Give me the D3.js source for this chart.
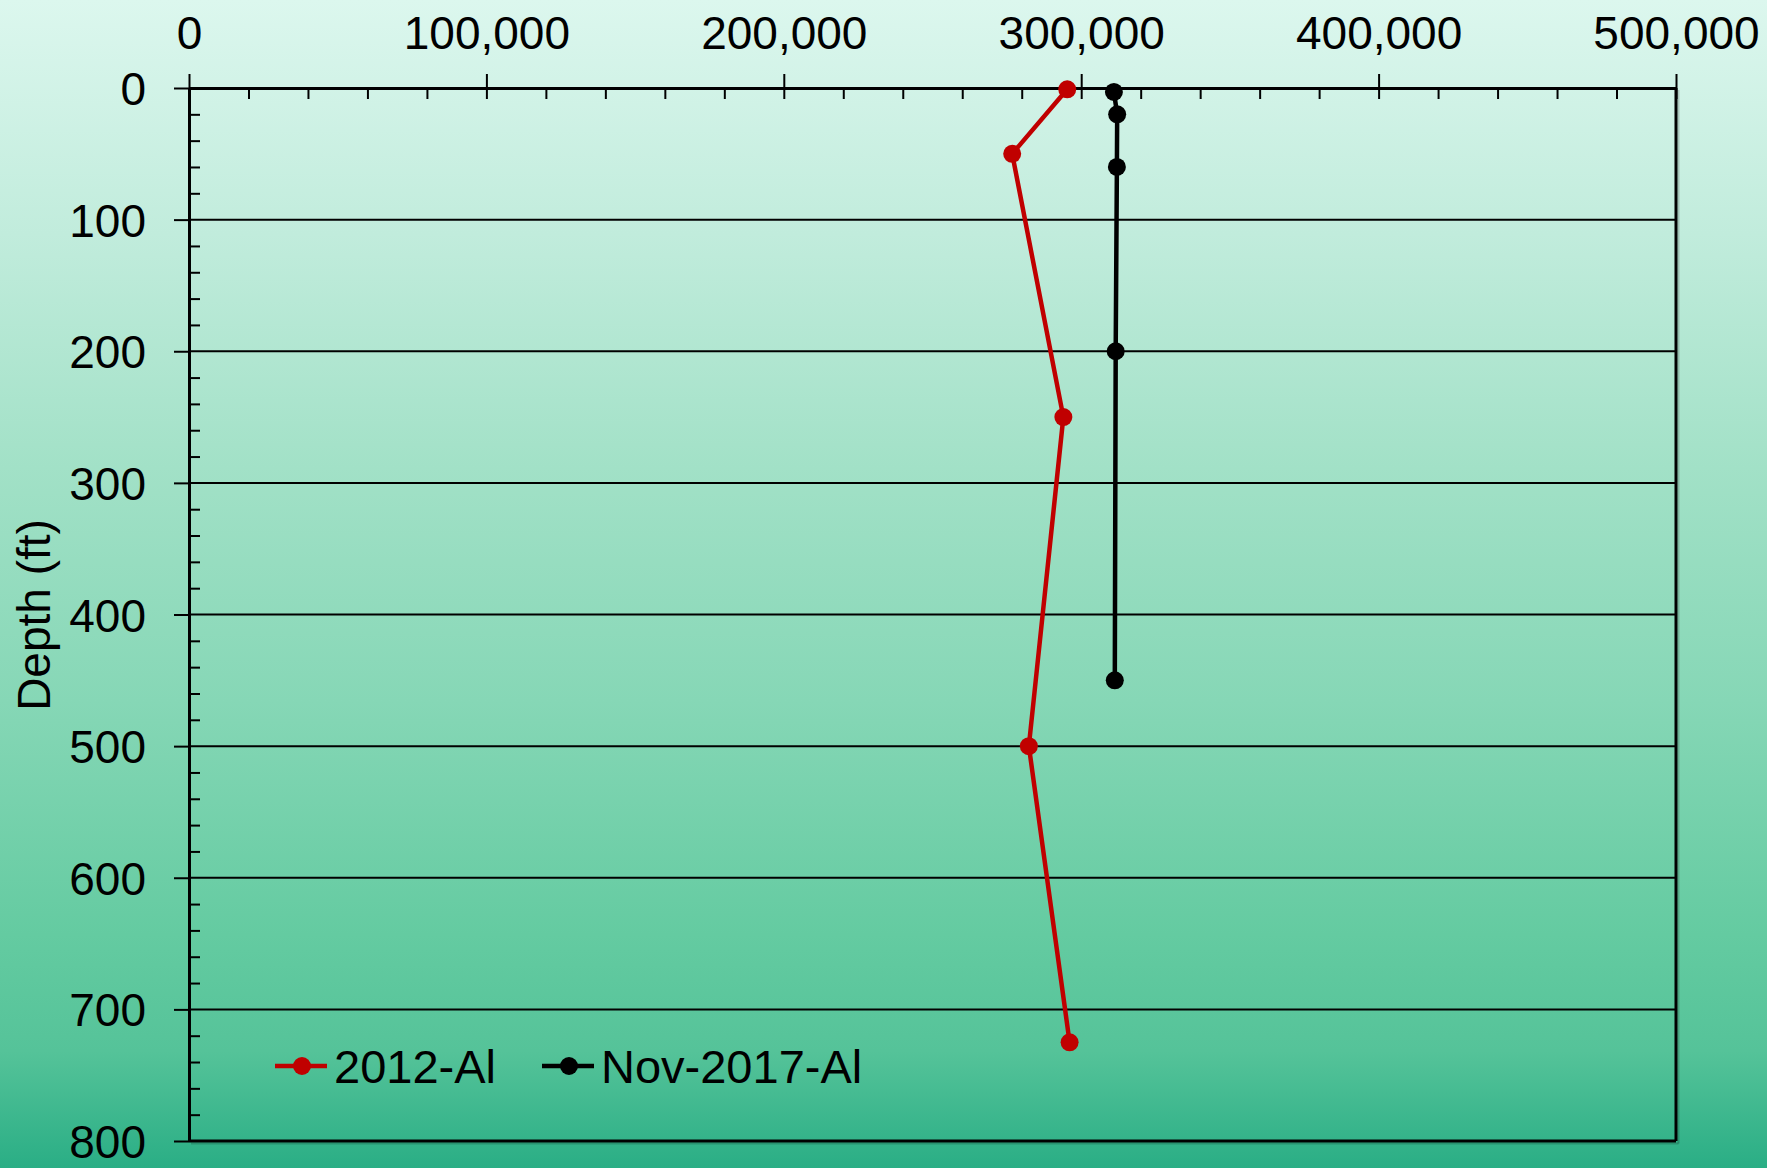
<!DOCTYPE html>
<html>
<head>
<meta charset="utf-8">
<script src="https://cdn.jsdelivr.net/npm/d3@7/dist/d3.min.js"></script>
<style>
  html, body { margin: 0; padding: 0; }
  body { width: 1767px; height: 1168px; overflow: hidden; }
  svg text { font-family: "Liberation Sans", Arial, sans-serif; fill: #000; }
</style>
</head>
<body>
<svg id="chart" width="1767" height="1168"></svg>
<script>
// ---- data ----
const series2012Depth = [1, 50, 250, 500, 725];
const series2012Value = [295300, 276800, 294000, 282400, 296100];
const series2017Depth = [3, 20, 60, 200, 450];
const series2017Value = [311000, 312100, 312000, 311600, 311300];
const seriesNames = ["2012-Al", "Nov-2017-Al"];
const seriesColors = ["#c00000", "#000000"];
const xTickValues = [0, 100000, 200000, 300000, 400000, 500000];
const yTickValues = [0, 100, 200, 300, 400, 500, 600, 700, 800];
const yTitle = "Depth (ft)";

(function () {
// ---- layout ----
const W = 1767, H = 1168;
const mLeft = 189, mRight = 1676, mTop = 88, mBottom = 1141;
const svg = d3.select("#chart");

// background gradient
const defs = svg.append("defs");
const grad = defs.append("linearGradient").attr("id", "bg").attr("x1", 0).attr("y1", 0).attr("x2", 0).attr("y2", 1);
[[0, "#dcf7ee"], [0.2, "#c1ecdc"], [0.4, "#a2e1c7"], [0.6, "#86d7b6"], [0.8, "#64cba1"], [0.9, "#55c399"], [1, "#2aae85"]]
  .forEach(([o, c]) => grad.append("stop").attr("offset", o).attr("stop-color", c));
svg.append("rect").attr("width", W).attr("height", H).attr("fill", "url(#bg)");

const x = d3.scaleLinear().domain([0, 500000]).range([mLeft, mRight]);
const y = d3.scaleLinear().domain([0, 800]).range([mTop, mBottom]);

const minorX = d3.range(0, 500001, 20000);
const minorY = d3.range(0, 801, 20);

// gridlines
svg.append("g").selectAll("line").data(yTickValues.filter(d => d > 0 && d < 800)).join("line")
  .attr("x1", x(0)).attr("x2", x(500000))
  .attr("y1", d => y(d)).attr("y2", d => y(d))
  .attr("stroke", "#000").attr("stroke-width", 2);

// border right & bottom with faint shadow
const shadow = svg.append("g").attr("stroke", "rgba(0,0,0,0.18)").attr("stroke-width", 2);
shadow.append("line").attr("x1", x(500000) + 2.5).attr("x2", x(500000) + 2.5).attr("y1", y(0) + 2).attr("y2", y(800) + 2.5);
shadow.append("line").attr("x1", x(0) + 2).attr("x2", x(500000) + 2.5).attr("y1", y(800) + 2.5).attr("y2", y(800) + 2.5);
svg.append("line").attr("x1", x(500000)).attr("x2", x(500000)).attr("y1", y(0)).attr("y2", y(800))
  .attr("stroke", "#000").attr("stroke-width", 3);
svg.append("line").attr("x1", x(0)).attr("x2", x(500000)).attr("y1", y(800)).attr("y2", y(800))
  .attr("stroke", "#000").attr("stroke-width", 3);

// x axis (top): major ticks above with labels
const xAxisTop = svg.append("g").attr("transform", `translate(0,${mTop})`)
  .call(d3.axisTop(x).tickValues(xTickValues).tickSize(14).tickSizeOuter(0).tickPadding(25)
    .tickFormat(d3.format(",")));
// x axis inner ticks (minor + major) below the line
const xAxisIn = svg.append("g").attr("transform", `translate(0,${mTop})`)
  .call(d3.axisBottom(x).tickValues(minorX).tickSize(11).tickSizeOuter(0).tickFormat(""));
xAxisIn.select(".domain").remove();

// y axis (left): major ticks outward with labels
const yAxisLeft = svg.append("g").attr("transform", `translate(${mLeft},0)`)
  .call(d3.axisLeft(y).tickValues(yTickValues).tickSize(15).tickSizeOuter(0).tickPadding(28));
const yAxisIn = svg.append("g").attr("transform", `translate(${mLeft},0)`)
  .call(d3.axisRight(y).tickValues(minorY.filter(d => d % 100 !== 0)).tickSize(11).tickSizeOuter(0).tickFormat(""));
yAxisIn.select(".domain").remove();

[xAxisTop, xAxisIn, yAxisLeft, yAxisIn].forEach(g => {
  g.selectAll(".tick line").attr("stroke", "#000").attr("stroke-width", 2);
  g.select(".domain").attr("stroke", "#000").attr("stroke-width", 3);
  g.selectAll("text").style("font-family", '"Liberation Sans", Arial, sans-serif')
    .attr("font-size", 46).attr("fill", "#000");
});
yAxisLeft.selectAll("text").attr("dy", "0.36em");

// y title
svg.append("text")
  .attr("transform", `translate(50,615) rotate(-90)`)
  .attr("text-anchor", "middle")
  .attr("font-size", 46)
  .text(yTitle);

// series
const series = [
  { name: seriesNames[0], color: seriesColors[0], pts: series2012Depth.map((d, i) => ({ d, v: series2012Value[i] })) },
  { name: seriesNames[1], color: seriesColors[1], pts: series2017Depth.map((d, i) => ({ d, v: series2017Value[i] })) }
];
const line = d3.line().x(p => x(p.v)).y(p => y(p.d));
series.forEach(s => {
  svg.append("path").datum(s.pts).attr("d", line)
    .attr("fill", "none").attr("stroke", s.color).attr("stroke-width", 4.5).attr("stroke-linejoin", "round");
  svg.append("g").selectAll("circle").data(s.pts).join("circle")
    .attr("cx", p => x(p.v)).attr("cy", p => y(p.d)).attr("r", 9).attr("fill", s.color);
});

// legend
const legendItems = [
  { name: seriesNames[0], color: seriesColors[0], x0: 275 },
  { name: seriesNames[1], color: seriesColors[1], x0: 542 }
];
const ly = 1066;
legendItems.forEach(it => {
  const g = svg.append("g");
  g.append("line").attr("x1", it.x0).attr("x2", it.x0 + 52).attr("y1", ly).attr("y2", ly)
    .attr("stroke", it.color).attr("stroke-width", 4.5);
  g.append("circle").attr("cx", it.x0 + 27).attr("cy", ly).attr("r", 9).attr("fill", it.color);
  g.append("text").attr("x", it.x0 + 59).attr("y", ly).attr("dy", "0.36em")
    .attr("font-size", 47).text(it.name);
});
})();
</script>
</body>
</html>
